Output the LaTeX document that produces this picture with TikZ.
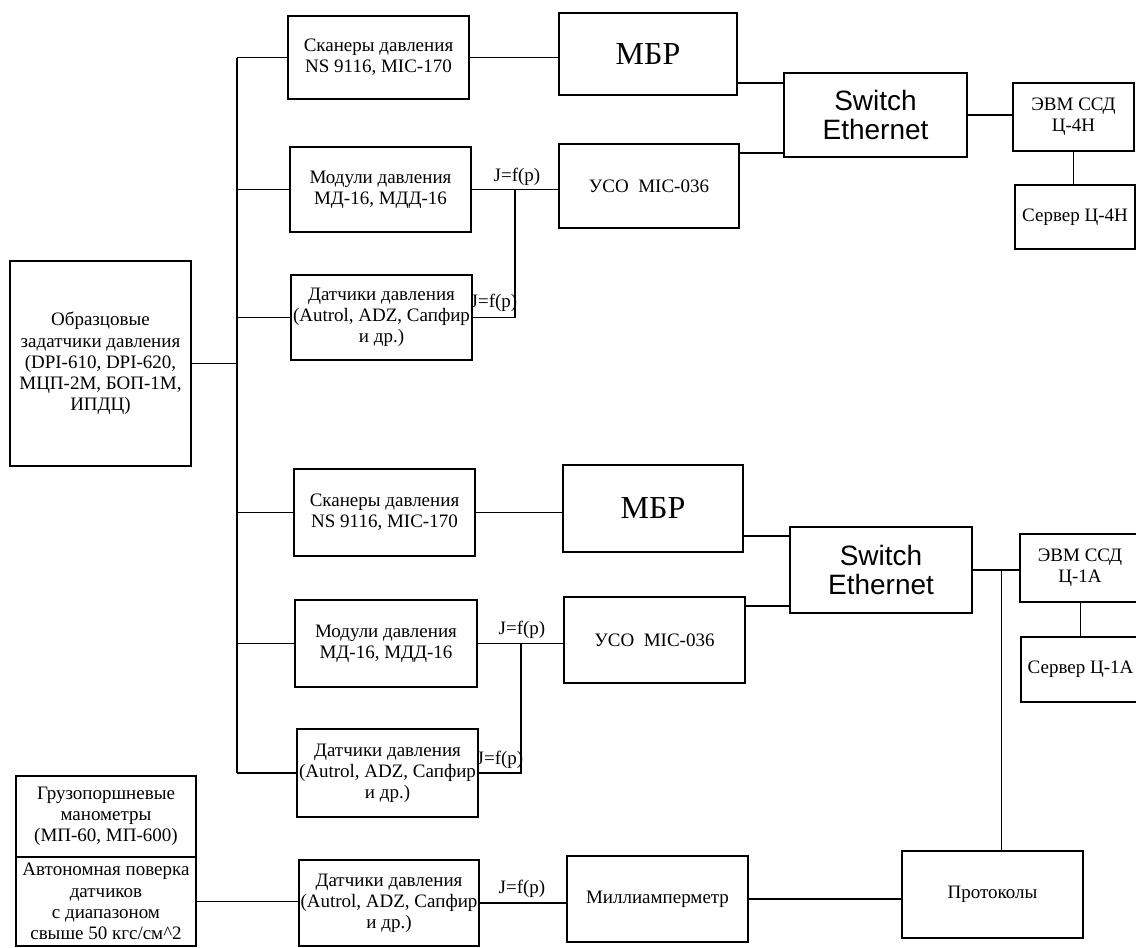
\documentclass[tikz,border=0pt]{standalone}
\usepackage{fontspec}
\setmainfont{Liberation Serif}
\newfontfamily\arialfont{Liberation Sans}
\usepackage{tikz}
\usetikzlibrary{positioning}

\begin{document}
\begin{tikzpicture}[x=0.5pt,y=-0.5pt]
\tikzstyle{block} =[draw, rectangle, inner sep=0pt, align=center, line width=0.6pt, font=\fontsize{9.5}{10.6}\selectfont]
\tikzstyle{big} =[font=\fontsize{16}{18}\selectfont]
\tikzstyle{sw} =[font=\arialfont\fontsize{14}{14.5}\selectfont]
\tikzstyle{lbl} =[inner sep=0pt, font=\fontsize{9.5}{10.6}\selectfont]
\tikzset{every path/.style={line width=0.6pt}}
\useasboundingbox (0,0) rectangle (1136,948);

\node[block,minimum width=90.5pt,minimum height=102.5pt](obr) at (100.5,363.5){Образцовые\\задатчики давления\\(DPI-610, DPI-620,\\МЦП-2М, БОП-1М,\\ИПДЦ)};

% upper stand
\node[block,minimum width=90.5pt,minimum height=41.5pt](scan1) at (378.5,57.5){Сканеры давления\\NS 9116, MIC-170};
\node[block,minimum width=90.5pt,minimum height=42.5pt](mod1) at (380.5,189.5){Модули давления\\МД-16, МДД-16};
\node[block,minimum width=90.5pt,minimum height=42.5pt](dat1) at (381.5,317.5){Датчики давления\\(Autrol, ADZ, Сапфир\\и др.)};
\node[block,big,minimum width=89pt,minimum height=41pt](mbr1) at (648,54){МБР};
\node[block,minimum width=90pt,minimum height=42pt](uso1) at (649,186){УСО\ \ MIC-036};
\node[block,sw,minimum width=91.5pt,minimum height=42pt](sw1) at (875.5,115){Switch\\Ethernet};
\node[block,minimum width=60.5pt,minimum height=34pt](evm1) at (1073.5,117){ЭВМ ССД\\Ц-4Н};
\node[block,minimum width=60pt,minimum height=32pt](srv1) at (1075,217){Сервер Ц-4Н};

% lower stand
\node[block,minimum width=90.5pt,minimum height=43.5pt](scan2) at (384.5,512.5){Сканеры давления\\NS 9116, MIC-170};
\node[block,minimum width=91pt,minimum height=43.5pt](mod2) at (386,643.5){Модули давления\\МД-16, МДД-16};
\node[block,minimum width=90.5pt,minimum height=44pt](dat2) at (387.5,773){Датчики давления\\(Autrol, ADZ, Сапфир\\и др.)};
\node[block,big,minimum width=90pt,minimum height=43.5pt](mbr2) at (653,508.5){МБР};
\node[block,minimum width=90.5pt,minimum height=43pt](uso2) at (654.5,640){УСО\ \ MIC-036};
\node[block,sw,minimum width=91pt,minimum height=43pt](sw2) at (881,570){Switch\\Ethernet};
\node[block,minimum width=60pt,minimum height=34pt](evm2) at (1080,568){ЭВМ ССД\\Ц-1А};
\node[block,minimum width=59.5pt,minimum height=32.5pt](srv2) at (1080.5,669.5){Сервер Ц-1А};

% autonomous check
\node[block,minimum width=90pt,minimum height=40.5pt](gruz) at (106,816.5){Грузопоршневые\\манометры\\(МП-60, МП-600)};
\node[block,minimum width=90pt,minimum height=44.5pt](avt) at (106,901.5){Автономная поверка\\датчиков\\с диапазоном\\свыше 50 кгс/см\textasciicircum2};
\node[block,minimum width=90pt,minimum height=43pt](dat3) at (389,903){Датчики давления\\(Autrol, ADZ, Сапфир\\и др.)};
\node[block,minimum width=90.5pt,minimum height=43pt](milli) at (657.5,899){Миллиамперметр};
\node[block,minimum width=90.5pt,minimum height=43.5pt](prot) at (992.5,894.5){Протоколы};

\coordinate (tr) at (237,0);
\coordinate (j1) at (515,0);
\coordinate (j2) at (521,0);

\draw (scan1.west -| tr) -- (dat2.west -| tr);
\draw (obr.east) -- (obr.east -| tr);
\foreach \v in {scan1,mod1,dat1,scan2,mod2,dat2}
  \draw (\v.west) -- (\v.west -| tr);

\draw (scan1.east) -- (scan1.east -| mbr1.west);
\draw (mod1.east) -- (mod1.east -| uso1.west);
\draw (dat1.east) -| (mod1.east -| j1);
\draw (mbr1.east |- 0,83) -- (sw1.west |- 0,83);
\draw (uso1.east |- 0,153) -- (sw1.west |- 0,153);
\draw (sw1.east) -- (sw1.east -| evm1.west);
\draw (evm1.south) -- (evm1.south |- srv1.north);

\draw (scan2.east) -- (scan2.east -| mbr2.west);
\draw (mod2.east) -- (mod2.east -| uso2.west);
\draw (dat2.east) -| (mod2.east -| j2);
\draw (mbr2.east |- 0,536) -- (sw2.west |- 0,536);
\draw (uso2.east |- 0,606) -- (sw2.west |- 0,606);
\draw (sw2.east) -- (sw2.east -| evm2.west);
\draw (evm2.south -| srv2.north) -- (srv2.north);
\draw ([xshift=4.5pt]prot.north) -- ([xshift=4.5pt]prot.north |- sw2.east);

\draw (avt.east) -- (avt.east -| dat3.west);
\draw (dat3.east) -- (dat3.east -| milli.west);
\draw (milli.east) -- (milli.east -| prot.west);

\node[lbl](f1) at (517,177){J=f(p)};
\node[lbl](f2) at (494,303){J=f(p)};
\node[lbl](f3) at (522,630){J=f(p)};
\node[lbl](f4) at (500,760){J=f(p)};
\node[lbl](f5) at (522,889){J=f(p)};
\end{tikzpicture}
\end{document}
